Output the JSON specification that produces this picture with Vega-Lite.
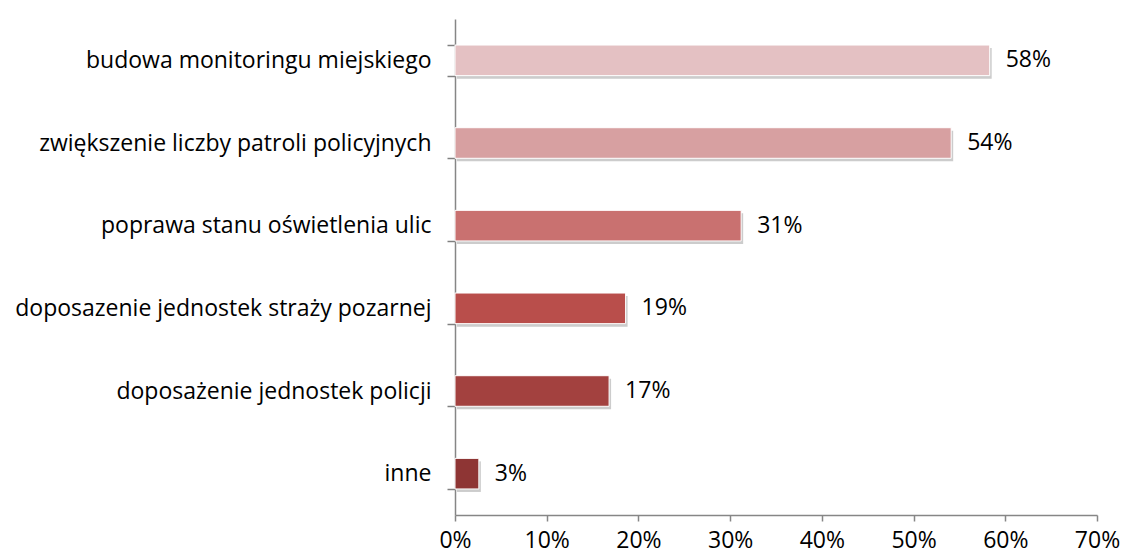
{
  "$schema": "https://vega.github.io/schema/vega-lite/v6.json",
  "width": 642,
  "height": 496,
  "autosize": {"type": "none"},
  "padding": {"left": 455, "top": 19, "right": 24, "bottom": 42},
  "background": "white",
  "config": {"view": {"stroke": null}, "font": "Open Sans", "axisBand": {"tickExtra": true}},
  "data": {
    "values": [
      {"kategoria": "budowa monitoringu miejskiego", "wartosc": 0.583, "kolor": "#E4C1C3"},
      {"kategoria": "zwiększenie liczby patroli policyjnych", "wartosc": 0.541, "kolor": "#D7A0A1"},
      {"kategoria": "poprawa stanu oświetlenia ulic", "wartosc": 0.312, "kolor": "#C97170"},
      {"kategoria": "doposazenie jednostek straży pozarnej", "wartosc": 0.186, "kolor": "#B94E4B"},
      {"kategoria": "doposażenie jednostek policji", "wartosc": 0.168, "kolor": "#A3413F"},
      {"kategoria": "inne", "wartosc": 0.026, "kolor": "#8E3534"}
    ]
  },
  "encoding": {
    "y": {
      "field": "kategoria",
      "type": "nominal",
      "sort": null,
      "title": null,
      "scale": {"paddingInner": 0.63, "paddingOuter": 0.315},
      "axis": {
        "ticks": true,
        "tickBand": "extent",
        "tickExtra": true,
        "domainColor": "#868686",
        "domainWidth": 1.5,
        "tickColor": "#808080",
        "tickOpacity": 1,
        "tickSize": 8,
        "tickWidth": 1.5,
        "labelPadding": 16,
        "labelFontSize": 23,
        "labelColor": "#000000",
        "labelFont": "Open Sans",
        "labelLimit": 500
      }
    },
    "x": {
      "field": "wartosc",
      "type": "quantitative",
      "title": null,
      "scale": {"domain": [0, 0.7], "nice": false},
      "axis": {
        "values": [0, 0.1, 0.2, 0.3, 0.4, 0.5, 0.6, 0.7],
        "format": ".0%",
        "grid": false,
        "domainColor": "#868686",
        "tickColor": "#868686",
        "tickSize": 6,
        "tickWidth": 1.5,
        "domainWidth": 1.5,
        "labelPadding": 8,
        "labelFontSize": 23,
        "labelColor": "#000000",
        "labelFont": "Open Sans",
        "labelFlush": false
      }
    }
  },
  "layer": [
    {
      "mark": {"type": "bar", "color": "#9a9a9a", "opacity": 0.5, "xOffset": 2, "yOffset": 3}
    },
    {
      "mark": {"type": "bar", "stroke": "white", "strokeWidth": 1},
      "encoding": {"color": {"field": "kolor", "type": "nominal", "scale": null}}
    },
    {
      "mark": {"type": "text", "align": "left", "dx": 16, "fontSize": 23, "font": "Open Sans", "color": "#000000"},
      "encoding": {"text": {"field": "wartosc", "type": "quantitative", "format": ".0%"}}
    }
  ]
}
